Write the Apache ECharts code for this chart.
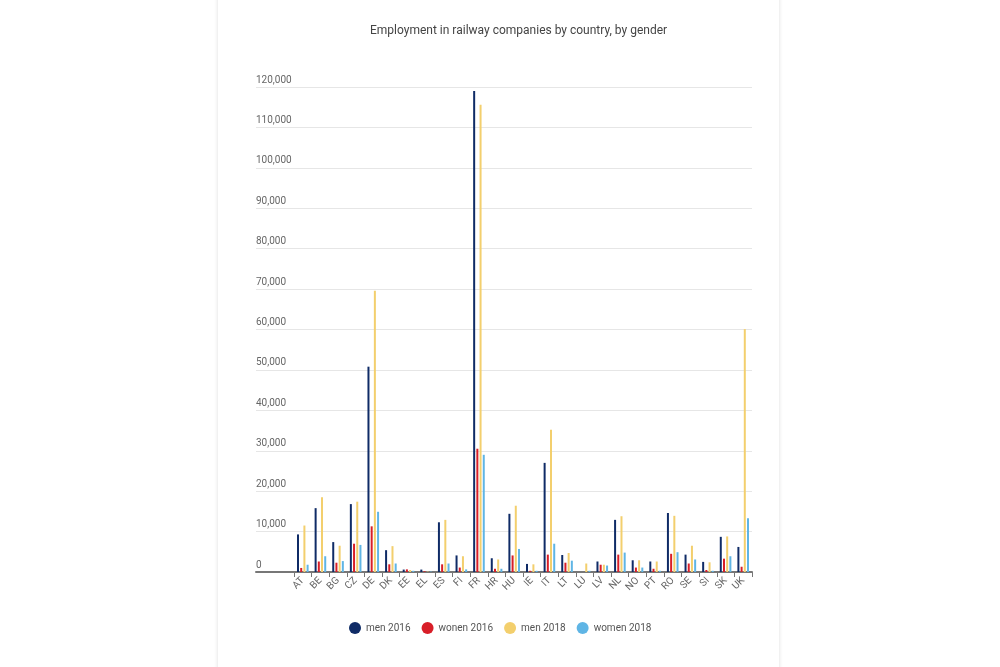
<!DOCTYPE html>
<html>
<head>
<meta charset="utf-8">
<script src="https://cdn.jsdelivr.net/npm/echarts@6/dist/echarts.min.js"></script>
<style>
html,body{margin:0;padding:0;background:#fff;width:1000px;height:667px;overflow:hidden;}
#card{position:absolute;left:218px;top:-10px;width:561px;height:700px;background:#fff;box-shadow:0 0 4px rgba(0,0,0,0.14);}
#chart{position:absolute;left:0;top:0;width:1000px;height:667px;}
</style>
</head>
<body>
<div id="card"></div>
<div id="chart"></div>
<script>
const titleText = 'Employment in railway companies by country, by gender';
const countries = ['AT','BE','BG','CZ','DE','DK','EE','EL','ES','FI','FR','HR','HU','IE','IT','LT','LU','LV','NL','NO','PT','RO','SE','SI','SK','UK'];
const seriesNames = ['men 2016','wonen 2016','men 2018','women 2018'];
const men2016   = [9300,15800,7400,16800,50800,5400,600,600,12300,4100,119000,3400,14400,2000,27000,4200,null,2600,12900,2900,2600,14600,4300,2500,8700,6200];
const women2016 = [1000,2600,2300,7000,11300,1900,650,200,1900,1100,30500,800,4100,300,4300,2300,null,1800,4300,1100,800,4500,2100,500,3300,1300];
const men2018   = [11500,18500,6500,17400,69600,6400,500,100,12900,3900,115600,3100,16400,1900,35200,4700,2100,1800,13800,2900,2600,13900,6500,2400,8800,60100];
const women2018 = [1800,3900,2700,6700,14900,2100,300,100,2100,650,29000,800,5700,300,7000,2800,300,1600,4800,1100,300,4900,3100,300,3900,13300];
const colors = ['#0f2b66','#d81e28','#f3cf6d','#5fb5e5'];

const chart = echarts.init(document.getElementById('chart'));
const font = 'Roboto, "Open Sans", sans-serif';
const gridTop = 87, gridBottom = 95;
const mk = (name, data, i) => ({
  name, type: 'bar', data, xAxisIndex: 1, yAxisIndex: 1,
  barWidth: 2, barGap: '60%', itemStyle: {color: colors[i]}
});
chart.setOption({
  animation: false,
  textStyle: {fontFamily: font},
  title: {text: titleText, left: 365, top: 20, textStyle: {fontSize: 12, fontWeight: 'normal', color: '#444', fontFamily: font}},
  legend: {
    data: seriesNames, left: 344, top: 617, icon: 'circle', itemWidth: 12, itemHeight: 12, itemGap: 11,
    textStyle: {fontSize: 10, color: '#555', fontFamily: font}
  },
  grid: [
    {left: 256, right: 248, top: gridTop, bottom: gridBottom},
    {left: 294, right: 248, top: gridTop, bottom: gridBottom}
  ],
  xAxis: [
    {gridIndex: 0, type: 'category', data: [''], axisLine: {show: true, lineStyle: {color: '#777', width: 2}}, axisTick: {show: false}, axisLabel: {show: false}},
    {gridIndex: 1, type: 'category', data: countries,
      axisLine: {show: false}, axisTick: {show: true, length: 5, lineStyle: {color: '#777'}},
      axisLabel: {interval: 0, rotate: 45, color: '#666', fontSize: 10, margin: 7, fontFamily: font}}
  ],
  yAxis: [
    {gridIndex: 0, type: 'value', min: 0, max: 120000, interval: 10000,
      axisLine: {show: false}, axisTick: {show: false},
      splitLine: {lineStyle: {color: '#e6e6e6', width: 1}},
      axisLabel: {inside: true, margin: 0, verticalAlign: 'bottom', align: 'left', padding: [0,0,2,0], color: '#666', fontSize: 10, fontFamily: font,
        formatter: v => v.toLocaleString('en-US')}},
    {gridIndex: 1, type: 'value', min: 0, max: 120000, interval: 10000, show: false, splitLine: {show: false}}
  ],
  series: [
    mk(seriesNames[0], men2016, 0),
    mk(seriesNames[1], women2016, 1),
    mk(seriesNames[2], men2018, 2),
    mk(seriesNames[3], women2018, 3)
  ]
});
</script>
</body>
</html>
